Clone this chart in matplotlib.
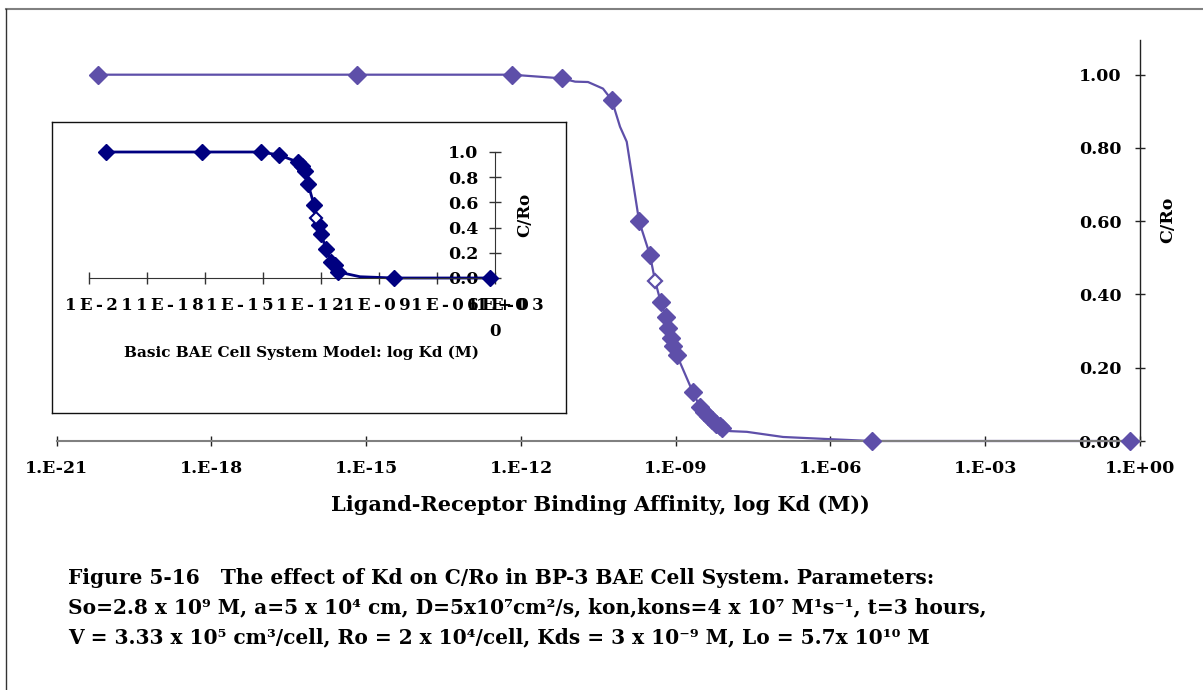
import numpy as np
import matplotlib
matplotlib.use("Agg")
import matplotlib.pyplot as plt
import matplotlib.ticker as ticker
from matplotlib.lines import Line2D

# main chart: BP-3 BAE cell system, C/Ro vs log Kd
main_logkd = [-20.2, -15.18, -12.18, -11.21, -10.24, -9.71, -9.50, -9.40, -9.29, -9.19,
              -9.15, -9.09, -9.05, -8.98, -8.67, -8.53, -8.45, -8.38, -8.30, -8.22,
              -8.15, -8.10, -5.2, -0.2]
main_cro = [1.0, 1.0, 1.0, 0.99, 0.931, 0.60, 0.508, 0.437, 0.379, 0.339,
            0.308, 0.281, 0.259, 0.235, 0.134, 0.093, 0.080, 0.068, 0.057, 0.047,
            0.040, 0.035, 0.0, 0.0]
main_open = 7  # hollow marker

# smoothed line of the main chart
curve_logkd = [-20.2, -15.18, -12.18, -11.21, -10.95, -10.70, -10.41, -10.24, -10.08, -9.95,
               -9.71, -9.50, -9.40, -9.29, -9.19, -9.15, -9.09, -9.05, -8.98, -8.67,
               -8.53, -8.10, -7.95, -7.62, -6.92, -6.01, -5.2, -0.2]
curve_cro = [1.0, 1.0, 1.0, 0.99, 0.981, 0.980, 0.962, 0.931, 0.858, 0.817,
             0.60, 0.508, 0.437, 0.379, 0.339, 0.308, 0.281, 0.259, 0.235, 0.134,
             0.093, 0.035, 0.027, 0.025, 0.011, 0.005, 0.0, 0.0]

# inset: basic BAE cell system model
inset_logkd = [-20.12, -15.15, -12.1, -11.17, -10.19, -9.98, -9.83, -9.67, -9.36, -9.26,
               -9.1, -9.0, -8.74, -8.48, -8.27, -8.12, -5.22, -0.26]
inset_cro = [1.0, 1.0, 1.0, 0.976, 0.92, 0.89, 0.85, 0.746, 0.58, 0.476,
             0.42, 0.35, 0.23, 0.127, 0.103, 0.048, 0.0, 0.0]
inset_open = 9
inset_curve_logkd = inset_logkd[:16] + [-6.98] + inset_logkd[16:]
inset_curve_cro = inset_cro[:16] + [0.01] + inset_cro[16:]

xtick_exps = [-21, -18, -15, -12, -9, -6, -3, 0]
main_xlabels = ['1.E-21', '1.E-18', '1.E-15', '1.E-12', '1.E-09', '1.E-06', '1.E-03', '1.E+00']
inset_xlabels = ['1E-21', '1E-18', '1E-15', '1E-12', '1E-09', '1E-06', '1E-03']
yticks_main = [0.0, 0.2, 0.4, 0.6, 0.8, 1.0]

purple = '#5E4FA9'
navy = '#000080'
serif = ['DejaVu Serif']

W, H = 1203, 690
fig = plt.figure(figsize=(W / 100, H / 100), dpi=100)

def fr(x0, y0, x1, y1):
    # pixel box (top-left origin) -> figure fraction rect
    return [x0 / W, 1 - y1 / H, (x1 - x0) / W, (y1 - y0) / H]

# ---- main axes ----
ax = fig.add_axes(fr(56.7, 40, 1140, 441))
x = [10.0 ** v for v in main_logkd]
ax.plot([10.0 ** v for v in curve_logkd], curve_cro, color=purple, lw=1.6, zorder=2, clip_on=False)
filled = [i for i in range(len(x)) if i != main_open]
ax.plot([x[i] for i in filled], [main_cro[i] for i in filled], ls='none', marker='D',
        ms=9, color=purple, mec=purple, zorder=3, clip_on=False)
ax.plot([x[main_open]], [main_cro[main_open]], ls='none', marker='D', ms=7.5,
        mfc='white', mec=purple, mew=1.6, zorder=4, clip_on=False)
ax.set_xscale('log')
ax.set_xlim(1e-21, 1e0)
ax.set_ylim(0, 1.0947)
ax.set_xticks([10.0 ** e for e in xtick_exps])
ax.set_xticklabels(main_xlabels)
ax.xaxis.set_minor_locator(ticker.NullLocator())
ax.set_yticks(yticks_main)
ax.yaxis.set_major_formatter(ticker.FormatStrFormatter('%.2f'))
ax.yaxis.set_ticks_position('right')
ax.spines['top'].set_visible(False)
ax.spines['left'].set_visible(False)
ax.spines['bottom'].set_color('#808080')
ax.spines['bottom'].set_linewidth(1.5)
ax.spines['right'].set_color('#222222')
ax.spines['right'].set_linewidth(1.0)
ax.tick_params(axis='x', direction='inout', length=7, width=1, color='#222222', pad=10,
               labelsize=12.5)
ax.tick_params(axis='y', direction='inout', length=7, width=1, color='#222222', pad=-17,
               labelsize=12.5)
for lab in ax.get_yticklabels():
    lab.set_ha('right')
for lab in ax.get_xticklabels() + ax.get_yticklabels():
    lab.set_family(serif)
    lab.set_fontweight('bold')
ax.set_facecolor('none')
ax.text(1 + 28 / 1083.3, 0.551, 'C/Ro', transform=ax.transAxes, rotation=90,
        ha='center', va='center', fontsize=12.5, fontweight='bold', family=serif)
ax.text(0.5 + (600 - 598) / 1083.3, -64 / 401, 'Ligand-Receptor Binding Affinity, log Kd (M))',
        transform=ax.transAxes, ha='center', va='center', fontsize=15, fontweight='bold',
        family=serif)

# ---- inset frame ----
box = fig.add_axes(fr(52, 122, 566, 413))
box.set_xticks([])
box.set_yticks([])
for s in box.spines.values():
    s.set_color('#111111')
    s.set_linewidth(1.0)
box.set_facecolor('white')

# ---- inset axes ----
ins = fig.add_axes(fr(89, 152, 495, 278))
xi = [10.0 ** v for v in inset_logkd]
ins.plot([10.0 ** v for v in inset_curve_logkd], inset_curve_cro, color=navy, lw=2, zorder=2,
         clip_on=False)
filled_i = [i for i in range(len(xi)) if i != inset_open]
ins.plot([xi[i] for i in filled_i], [inset_cro[i] for i in filled_i], ls='none', marker='D',
         ms=8, color=navy, zorder=3, clip_on=False)
ins.plot([xi[inset_open]], [inset_cro[inset_open]], ls='none', marker='D', ms=6.5,
         mfc='white', mec=navy, mew=1.5, zorder=4, clip_on=False)
ins.set_xscale('log')
ins.set_xlim(1e-21, 1e0)
ins.set_ylim(0, 1.0)
ins.set_xticks([10.0 ** e for e in xtick_exps])
ins.xaxis.set_minor_locator(ticker.NullLocator())
ins.set_xticklabels([])
ins.set_yticks(yticks_main)
ins.yaxis.set_major_formatter(ticker.FormatStrFormatter('%.1f'))
ins.yaxis.set_ticks_position('right')
ins.spines['top'].set_visible(False)
ins.spines['left'].set_visible(False)
ins.spines['bottom'].set_color('#333333')
ins.spines['right'].set_color('#333333')
ins.tick_params(axis='x', direction='inout', length=9, width=1, color='#333333')
ins.tick_params(axis='y', direction='inout', length=8, width=1, color='#333333', pad=-16,
                labelsize=12.5)
for lab in ins.get_yticklabels():
    lab.set_ha('right')
    lab.set_family(serif)
    lab.set_fontweight('bold')
ins.set_facecolor('none')

# letter-spaced labels under the inset axis (they run into each other, as in the original)
label_px = [99, 170, 240, 310, 377, 445, 510]
for px, txt in zip(label_px, inset_xlabels):
    fig.text(px / W, 1 - 305 / H, '\u2009'.join(txt), ha='center', va='center',
             fontsize=12, fontweight='bold', family=serif)
fig.text(497 / W, 1 - 305 / H, '\u2009'.join('1E+0'), ha='center', va='center',
         fontsize=12, fontweight='bold', family=serif)
fig.text(495 / W, 1 - 332 / H, '0', ha='center', va='center',
         fontsize=12, fontweight='bold', family=serif)
fig.text(525 / W, 1 - 215 / H, 'C/Ro', rotation=90, ha='center', va='center',
         fontsize=12, fontweight='bold', family=serif)
fig.text(301 / W, 1 - 353 / H, 'Basic BAE Cell System Model: log Kd (M)', ha='center',
         va='center', fontsize=11, fontweight='bold', family=serif)

# ---- caption ----
caption = [
    'Figure 5-16   The effect of Kd on C/Ro in BP-3 BAE Cell System. Parameters:',
    'So=2.8 x 10\u2079 M, a=5 x 10\u2074 cm, D=5x10\u2077cm\u00b2/s, kon,kons=4 x 10\u2077 M\u00b9s\u207b\u00b9, t=3 hours,',
    'V = 3.33 x 10\u2075 cm\u00b3/cell, Ro = 2 x 10\u2074/cell, Kds = 3 x 10\u207b\u2079 M, Lo = 5.7x 10\u00b9\u2070 M',
]
for i, line in enumerate(caption):
    fig.text(68 / W, 1 - (578 + 29.5 * i) / H, line, ha='left', va='center',
             fontsize=14.5, fontweight='bold', family=serif)

# ---- outer border (top and left visible) ----
fig.add_artist(Line2D([6 / W, 1], [1 - 9 / H, 1 - 9 / H], transform=fig.transFigure,
                      color='#808080', lw=1.5))
fig.add_artist(Line2D([6 / W, 6 / W], [1 - 9 / H, 0], transform=fig.transFigure,
                      color='#333333', lw=1.0))

fig.savefig('out.png', dpi=100)
